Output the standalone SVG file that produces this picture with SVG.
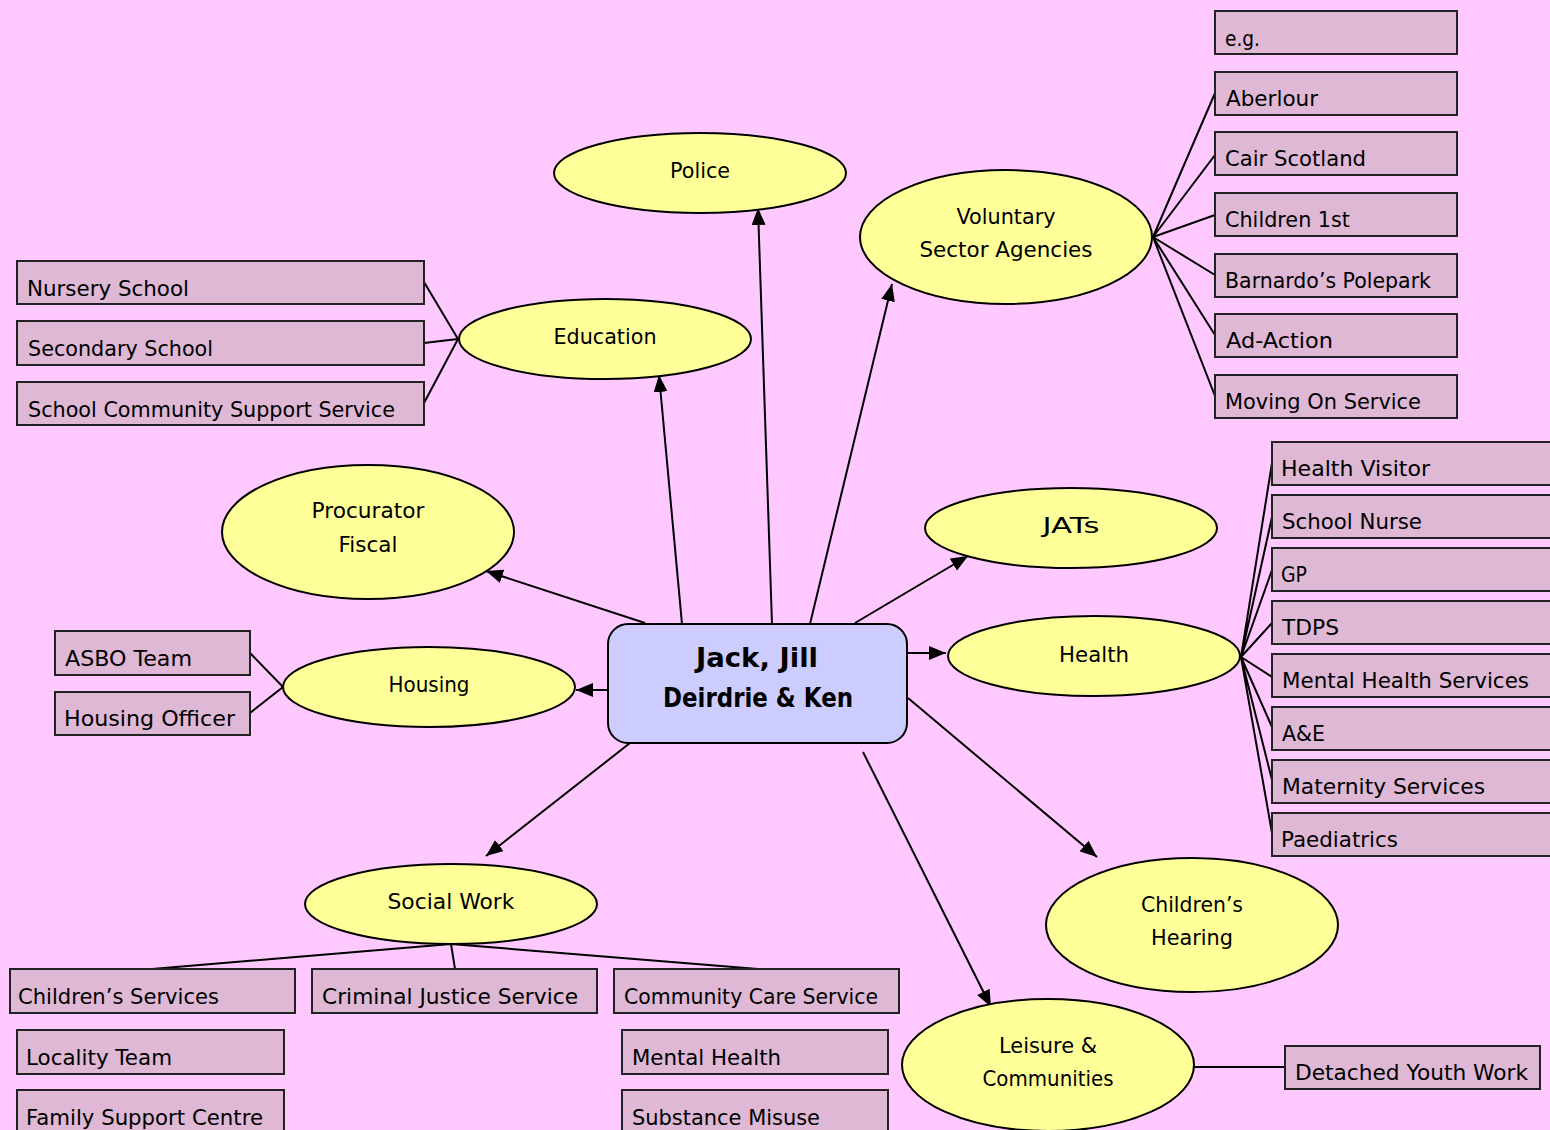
<svg xmlns="http://www.w3.org/2000/svg" width="1550" height="1130" viewBox="0 0 1550 1130">
<defs>
<style>
.bg{fill:#FFC8FF}
.box{fill:#DEB8D4;stroke:#222;stroke-width:2}
.ell{fill:#FFFF99;stroke:#000;stroke-width:2}
.ctr{fill:#CCCCFF;stroke:#000;stroke-width:2}
.t{font-family:"DejaVu Sans","Liberation Sans",sans-serif;font-size:22px;fill:#000}
.m{text-anchor:middle}
.b{font-weight:bold;font-size:26px}
.ln{stroke:#000;stroke-width:2;fill:none}
.ar{stroke:#000;stroke-width:2;fill:none;marker-end:url(#ah)}
</style>
<marker id="ah" markerUnits="userSpaceOnUse" markerWidth="18" markerHeight="14" refX="17" refY="7" orient="auto">
<path d="M0,0 L17,7 L0,14 z" fill="#000"/>
</marker>
</defs>
<rect class="bg" x="0" y="0" width="1550" height="1130"/>

<g id="connectors">
<path class="ar" d="M772,624 L758,208"/>
<path class="ar" d="M810,624 L892,284"/>
<path class="ar" d="M682,624 L659,375"/>
<path class="ar" d="M645,623 L486,571"/>
<path class="ar" d="M855,623 L968,556"/>
<path class="ar" d="M907,653 L946,653"/>
<path class="ar" d="M608,690 L576,690"/>
<path class="ar" d="M630,743 L486,856"/>
<path class="ar" d="M908,698 L1097,857"/>
<path class="ar" d="M863,752 L991,1007"/>
<path class="ln" d="M458,339 L424,282 M458,339 L424,343 M458,339 L424,403"/>
<path class="ln" d="M1153,237 L1215,93 M1153,237 L1215,155 M1153,237 L1215,215 M1153,237 L1215,275 M1153,237 L1215,335 M1153,237 L1215,396"/>
<path class="ln" d="M1241,657 L1272,463 M1241,657 L1272,517 M1241,657 L1272,570 M1241,657 L1272,623 M1241,657 L1272,677 M1241,657 L1272,727 M1241,657 L1272,780 M1241,657 L1272,833"/>
<path class="ln" d="M283,687 L250,653 M283,687 L250,713"/>
<path class="ln" d="M451,944 L152,969 M451,944 L455,969 M451,944 L758,969"/>
<path class="ln" d="M1194,1067 L1285,1067"/>
</g>

<g id="center">
<rect class="ctr" x="608" y="624" width="299" height="119" rx="20"/>
<text class="t m b" x="757" y="667" textLength="122" lengthAdjust="spacingAndGlyphs">Jack, Jill</text>
<text class="t m b" x="758" y="707" textLength="190" lengthAdjust="spacingAndGlyphs">Deirdrie &amp; Ken</text>
</g>

<g id="police"><ellipse class="ell" cx="700" cy="173" rx="146" ry="40"/><text class="t m" x="700" y="178" textLength="60" lengthAdjust="spacingAndGlyphs">Police</text></g>
<g id="voluntary"><ellipse class="ell" cx="1006" cy="237" rx="146" ry="67"/><text class="t m" x="1006" y="224" textLength="99" lengthAdjust="spacingAndGlyphs">Voluntary</text><text class="t m" x="1006" y="257" textLength="173" lengthAdjust="spacingAndGlyphs">Sector Agencies</text></g>
<g id="education"><ellipse class="ell" cx="605" cy="339" rx="146" ry="40"/><text class="t m" x="605" y="344" textLength="103" lengthAdjust="spacingAndGlyphs">Education</text></g>
<g id="procurator"><ellipse class="ell" cx="368" cy="532" rx="146" ry="67"/><text class="t m" x="368" y="518" textLength="113" lengthAdjust="spacingAndGlyphs">Procurator</text><text class="t m" x="368" y="552" textLength="59" lengthAdjust="spacingAndGlyphs">Fiscal</text></g>
<g id="jats"><ellipse class="ell" cx="1071" cy="528" rx="146" ry="40"/><text class="t m" x="1071" y="533" textLength="57" lengthAdjust="spacingAndGlyphs">JATs</text></g>
<g id="health"><ellipse class="ell" cx="1094" cy="656" rx="146" ry="40"/><text class="t m" x="1094" y="662" textLength="70" lengthAdjust="spacingAndGlyphs">Health</text></g>
<g id="housing"><ellipse class="ell" cx="429" cy="687" rx="146" ry="40"/><text class="t m" x="429" y="692" textLength="81" lengthAdjust="spacingAndGlyphs">Housing</text></g>
<g id="socialwork"><ellipse class="ell" cx="451" cy="904" rx="146" ry="40"/><text class="t m" x="451" y="909" textLength="127" lengthAdjust="spacingAndGlyphs">Social Work</text></g>
<g id="hearing"><ellipse class="ell" cx="1192" cy="925" rx="146" ry="67"/><text class="t m" x="1192" y="912" textLength="102" lengthAdjust="spacingAndGlyphs">Children’s</text><text class="t m" x="1192" y="945" textLength="82" lengthAdjust="spacingAndGlyphs">Hearing</text></g>
<g id="leisure"><ellipse class="ell" cx="1048" cy="1065" rx="146" ry="66"/><text class="t m" x="1048" y="1053" textLength="98" lengthAdjust="spacingAndGlyphs">Leisure &amp;</text><text class="t m" x="1048" y="1086" textLength="131" lengthAdjust="spacingAndGlyphs">Communities</text></g>

<g id="nursery"><rect class="box" x="17" y="261" width="407" height="43"/><text class="t" x="27" y="296" textLength="162" lengthAdjust="spacingAndGlyphs">Nursery School</text></g>
<g id="secondary"><rect class="box" x="17" y="321" width="407" height="44"/><text class="t" x="28" y="356" textLength="185" lengthAdjust="spacingAndGlyphs">Secondary School</text></g>
<g id="scss"><rect class="box" x="17" y="382" width="407" height="43"/><text class="t" x="28" y="417" textLength="367" lengthAdjust="spacingAndGlyphs">School Community Support Service</text></g>

<g id="eg"><rect class="box" x="1215" y="11" width="242" height="43"/><text class="t" x="1225" y="46" textLength="35" lengthAdjust="spacingAndGlyphs">e.g.</text></g>
<g id="aberlour"><rect class="box" x="1215" y="72" width="242" height="43"/><text class="t" x="1226" y="106" textLength="92" lengthAdjust="spacingAndGlyphs">Aberlour</text></g>
<g id="cair"><rect class="box" x="1215" y="132" width="242" height="43"/><text class="t" x="1225" y="166" textLength="141" lengthAdjust="spacingAndGlyphs">Cair Scotland</text></g>
<g id="children1st"><rect class="box" x="1215" y="193" width="242" height="43"/><text class="t" x="1225" y="227" textLength="125" lengthAdjust="spacingAndGlyphs">Children 1st</text></g>
<g id="barnardos"><rect class="box" x="1215" y="254" width="242" height="43"/><text class="t" x="1225" y="288" textLength="206" lengthAdjust="spacingAndGlyphs">Barnardo’s Polepark</text></g>
<g id="adaction"><rect class="box" x="1215" y="314" width="242" height="43"/><text class="t" x="1226" y="348" textLength="107" lengthAdjust="spacingAndGlyphs">Ad-Action</text></g>
<g id="movingon"><rect class="box" x="1215" y="375" width="242" height="43"/><text class="t" x="1225" y="409" textLength="196" lengthAdjust="spacingAndGlyphs">Moving On Service</text></g>

<g id="hv"><rect class="box" x="1272" y="442" width="282" height="43"/><text class="t" x="1281" y="476" textLength="149" lengthAdjust="spacingAndGlyphs">Health Visitor</text></g>
<g id="sn"><rect class="box" x="1272" y="495" width="282" height="43"/><text class="t" x="1282" y="529" textLength="140" lengthAdjust="spacingAndGlyphs">School Nurse</text></g>
<g id="gp"><rect class="box" x="1272" y="548" width="282" height="43"/><text class="t" x="1281" y="582" textLength="26" lengthAdjust="spacingAndGlyphs">GP</text></g>
<g id="tdps"><rect class="box" x="1272" y="601" width="282" height="43"/><text class="t" x="1282" y="635" textLength="57" lengthAdjust="spacingAndGlyphs">TDPS</text></g>
<g id="mhs"><rect class="box" x="1272" y="654" width="282" height="43"/><text class="t" x="1282" y="688" textLength="247" lengthAdjust="spacingAndGlyphs">Mental Health Services</text></g>
<g id="ae"><rect class="box" x="1272" y="707" width="282" height="43"/><text class="t" x="1282" y="741" textLength="43" lengthAdjust="spacingAndGlyphs">A&amp;E</text></g>
<g id="maternity"><rect class="box" x="1272" y="760" width="282" height="43"/><text class="t" x="1282" y="794" textLength="203" lengthAdjust="spacingAndGlyphs">Maternity Services</text></g>
<g id="paed"><rect class="box" x="1272" y="813" width="282" height="43"/><text class="t" x="1281" y="847" textLength="117" lengthAdjust="spacingAndGlyphs">Paediatrics</text></g>

<g id="asbo"><rect class="box" x="55" y="631" width="195" height="44"/><text class="t" x="65" y="666" textLength="127" lengthAdjust="spacingAndGlyphs">ASBO Team</text></g>
<g id="housingofficer"><rect class="box" x="55" y="692" width="195" height="43"/><text class="t" x="64" y="726" textLength="171" lengthAdjust="spacingAndGlyphs">Housing Officer</text></g>

<g id="childrensservices"><rect class="box" x="10" y="969" width="285" height="44"/><text class="t" x="18" y="1004" textLength="201" lengthAdjust="spacingAndGlyphs">Children’s Services</text></g>
<g id="criminaljustice"><rect class="box" x="312" y="969" width="285" height="44"/><text class="t" x="322" y="1004" textLength="256" lengthAdjust="spacingAndGlyphs">Criminal Justice Service</text></g>
<g id="communitycare"><rect class="box" x="614" y="969" width="285" height="44"/><text class="t" x="624" y="1004" textLength="254" lengthAdjust="spacingAndGlyphs">Community Care Service</text></g>
<g id="locality"><rect class="box" x="17" y="1030" width="267" height="44"/><text class="t" x="26" y="1065" textLength="146" lengthAdjust="spacingAndGlyphs">Locality Team</text></g>
<g id="familysupport"><rect class="box" x="17" y="1090" width="267" height="44"/><text class="t" x="26" y="1125" textLength="237" lengthAdjust="spacingAndGlyphs">Family Support Centre</text></g>
<g id="mentalhealth"><rect class="box" x="622" y="1030" width="266" height="44"/><text class="t" x="632" y="1065" textLength="149" lengthAdjust="spacingAndGlyphs">Mental Health</text></g>
<g id="substance"><rect class="box" x="622" y="1090" width="266" height="44"/><text class="t" x="632" y="1125" textLength="188" lengthAdjust="spacingAndGlyphs">Substance Misuse</text></g>
<g id="detached"><rect class="box" x="1285" y="1046" width="255" height="43"/><text class="t" x="1295" y="1080" textLength="233" lengthAdjust="spacingAndGlyphs">Detached Youth Work</text></g>
</svg>
